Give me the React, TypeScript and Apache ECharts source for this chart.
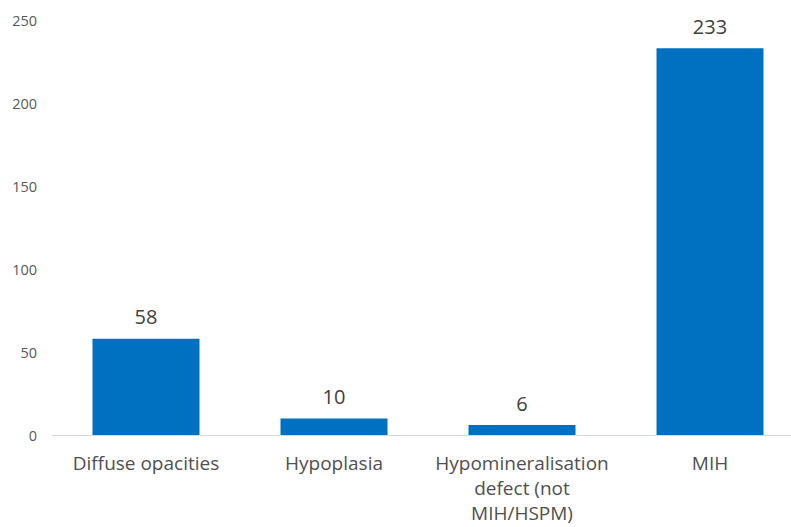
import React, { useEffect, useRef } from "react";
import * as echarts from "echarts";

const categories = [
  "Diffuse opacities",
  "Hypoplasia",
  "Hypomineralisation\ndefect (not\nMIH/HSPM)",
  "MIH",
];
const values = [58, 10, 6, 233];
const yTicks = { min: 0, max: 250, interval: 50 };

export default function App() {
  const ref = useRef<HTMLDivElement>(null);
  useEffect(() => {
    if (!ref.current) return;
    const chart = echarts.init(ref.current, null, { renderer: "svg" });
    chart.setOption({
      animation: false,
      grid: {
        left: 52,
        top: 20,
        width: 752,
        bottom: 92,
        containLabel: false,
        outerBoundsMode: "none",
      },
      xAxis: {
        type: "category",
        data: categories,
        axisLine: { lineStyle: { color: "#d9d9d9", width: 1 } },
        axisTick: { show: false },
        axisLabel: {
          color: "#505050",
          fontSize: 19,
          fontFamily: "Open Sans, sans-serif",
          lineHeight: 25,
          margin: 15,
          interval: 0,
        },
      },
      yAxis: {
        type: "value",
        min: yTicks.min,
        max: yTicks.max,
        interval: yTicks.interval,
        splitLine: { show: false },
        axisLine: { show: false },
        axisTick: { show: false },
        axisLabel: {
          color: "#595959",
          fontSize: 14.5,
          fontFamily: "Open Sans, sans-serif",
          margin: 15,
        },
      },
      series: [
        {
          type: "bar",
          data: values,
          barWidth: 107,
          itemStyle: { color: "#0070C0" },
          label: {
            show: true,
            position: "top",
            distance: 12,
            color: "#404040",
            fontSize: 20,
            fontFamily: "Open Sans, sans-serif",
          },
        },
      ],
    });
    return () => chart.dispose();
  }, []);
  return (
    <div style={{ width: 791, height: 527, position: "absolute", left: 0, top: 0, overflow: "hidden" }}>
      <div ref={ref} style={{ width: 820, height: 527, position: "absolute", left: 0, top: 0 }} />
    </div>
  );
}
